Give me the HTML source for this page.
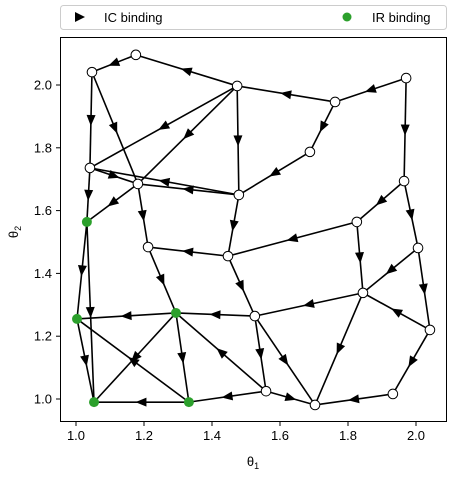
<!DOCTYPE html>
<html><head><meta charset="utf-8"><style>
body{margin:0;background:#fff;width:452px;height:474px;overflow:hidden}
svg text{font-family:"Liberation Sans","DejaVu Sans",sans-serif;font-size:13px;fill:#000}
</style></head><body>
<svg id="chart" width="452" height="474" xmlns="http://www.w3.org/2000/svg">
<rect x="60.5" y="5.5" width="386" height="24" rx="3" fill="#fff" stroke="#ccc"/>
<polygon points="75,12 85,17 75,22" fill="#000"/>
<text x="104" y="22">IC binding</text>
<circle cx="347" cy="17" r="4.5" fill="#2ca02c"/>
<text x="372" y="22">IR binding</text>
<g id="plot"></g>
<rect x="60.5" y="37.5" width="386" height="384" fill="none" stroke="#000"/>
<g id="ticks"></g>
<text x="253" y="466" text-anchor="middle">θ<tspan font-size="9" dy="3">1</tspan></text>
<text transform="translate(18,232) rotate(-90)" text-anchor="middle">θ<tspan font-size="9" dy="3">2</tspan></text>
</svg>
<script>
const nodeIds=["A","B","C","D","E","F","G","H","I","J","K","L","M","N","O","P","Q","R","S","T","U","V","W","X","Y"];
const nodeX=[1.047,1.176,1.474,1.762,1.971,1.041,1.182,1.479,1.688,1.965,1.826,2.006,1.212,1.447,1.844,2.041,1.526,1.032,1.003,1.294,1.053,1.332,1.559,1.703,1.932];
const nodeY=[2.041,2.096,1.997,1.946,2.022,1.736,1.685,1.650,1.787,1.694,1.564,1.481,1.484,1.455,1.338,1.220,1.264,1.564,1.255,1.274,0.990,0.990,1.025,0.981,1.016];
const irNodes=["R","S","T","U","V"];
const edgeFrom=["C","B","A","A","C","C","C","D","E","D","I","E","J","J","F","H","H","G","G","F","H","K","K","L","L","P","O","O","P","Y","W","Q","Q","N","N","M","Q","T","T","T","V","V","W","W","R","R","S"];
const edgeTo  =["B","A","F","G","F","G","H","C","D","I","H","J","K","L","G","F","G","M","R","R","N","N","O","O","P","O","Q","X","Y","X","X","W","X","Q","M","T","T","S","U","V","S","U","V","T","S","U","U"];
const xTicks=[1.0,1.2,1.4,1.6,1.8,2.0];
const yTicks=[1.0,1.2,1.4,1.6,1.8,2.0];
const X=v=>76+(v-1)*340, Y=v=>399-(v-1)*314;
const NS="http://www.w3.org/2000/svg";
const plot=document.getElementById('plot'), tk=document.getElementById('ticks');
function mk(tag,attrs,parent){const e=document.createElementNS(NS,tag);for(const k in attrs)e.setAttribute(k,attrs[k]);parent.appendChild(e);return e;}
const pos={};nodeIds.forEach((id,i)=>pos[id]=[X(nodeX[i]),Y(nodeY[i])]);
edgeFrom.forEach((f,i)=>{
  const a=pos[f],b=pos[edgeTo[i]];
  const ln=mk('line',{x1:a[0],y1:a[1],x2:b[0],y2:b[1],stroke:'#000','stroke-width':1.6},plot);
  
  
  const dx=b[0]-a[0],dy=b[1]-a[1],L=Math.hypot(dx,dy),ux=dx/L,uy=dy/L;
  const mx=(a[0]+b[0])/2,my=(a[1]+b[1])/2;
  const tip=[mx+ux*6,my+uy*6],bx=mx-ux*5,by=my-uy*5;
  const tri=mk('polygon',{points:`${tip[0]},${tip[1]} ${bx-uy*4.5},${by+ux*4.5} ${bx+uy*4.5},${by-ux*4.5}`,fill:'#000'},plot);
  
  
});
nodeIds.forEach((id,i)=>{
  const ir=irNodes.includes(id);
  const c=mk('circle',{cx:pos[id][0],cy:pos[id][1],r:ir?5:4.8,fill:ir?'#2ca02c':'#fff',stroke:ir?'none':'#000','stroke-width':1},plot);
  
  
});
xTicks.forEach(v=>{
  const l=mk('line',{x1:X(v),x2:X(v),y1:422,y2:426,stroke:'#000'},tk);
  
  
  const t=mk('text',{x:X(v),y:440,'text-anchor':'middle'},tk);t.textContent=v.toFixed(1);
  
  
});
yTicks.forEach(v=>{
  const l=mk('line',{x1:56,x2:60,y1:Y(v),y2:Y(v),stroke:'#000'},tk);
  
  
  const t=mk('text',{x:52,y:Y(v)+4.5,'text-anchor':'end'},tk);t.textContent=v.toFixed(1);
  
  
});
</script>
</body></html>
